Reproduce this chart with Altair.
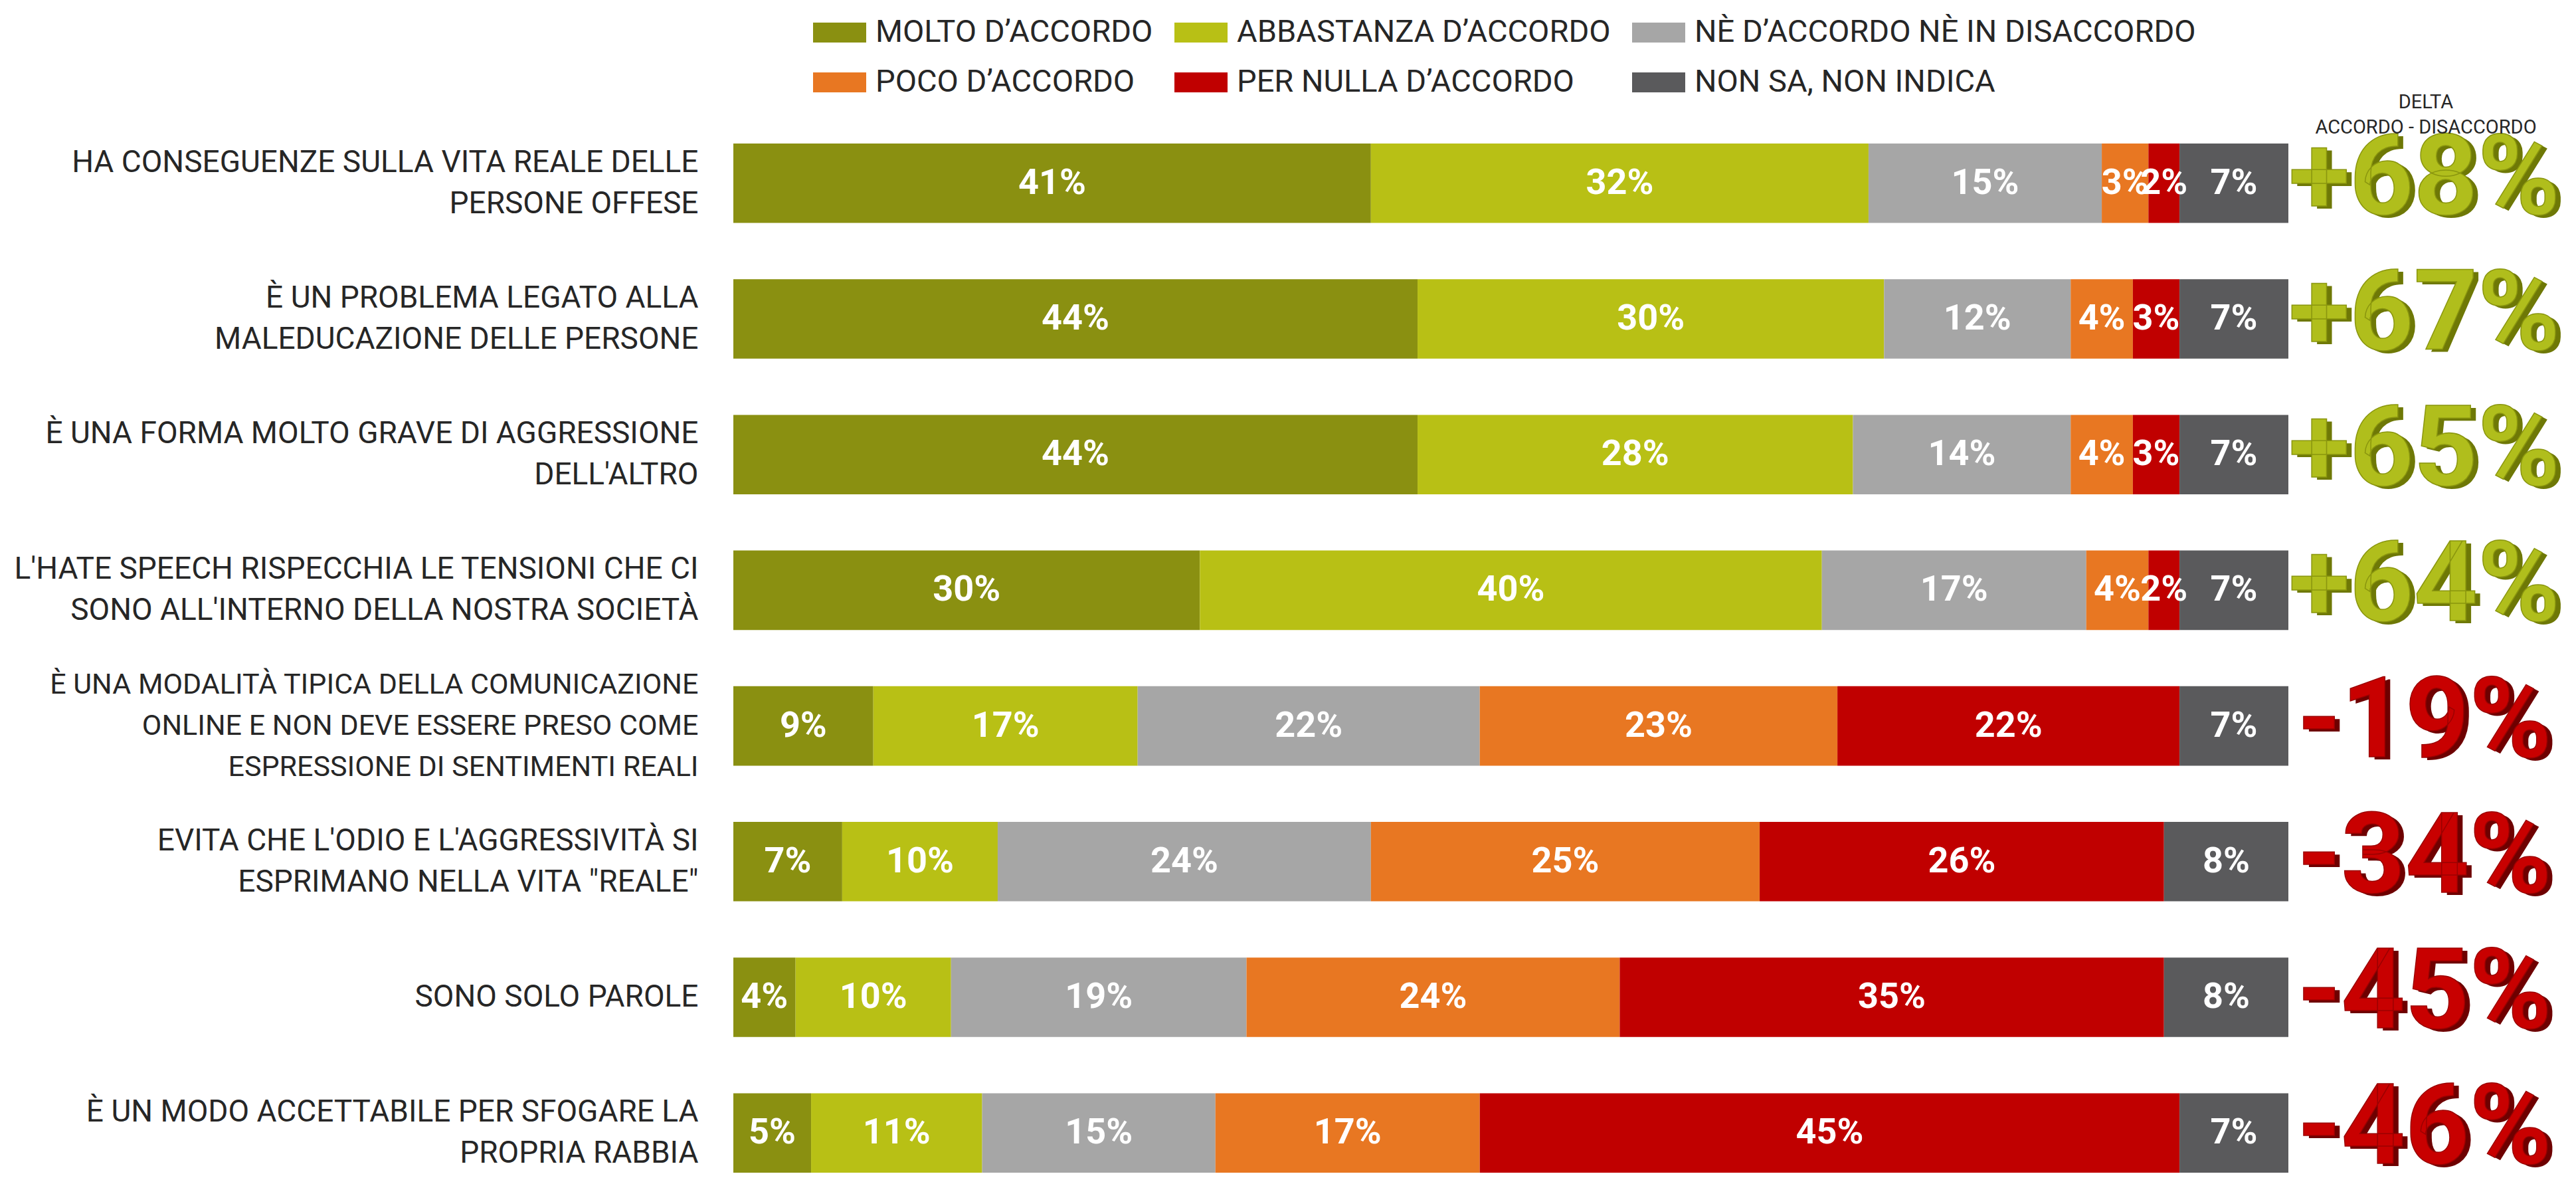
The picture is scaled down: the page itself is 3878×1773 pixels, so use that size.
import altair as alt
import pandas as pd

items = [
    "HA CONSEGUENZE SULLA VITA REALE DELLE|PERSONE OFFESE",
    "È UN PROBLEMA LEGATO ALLA|MALEDUCAZIONE DELLE PERSONE",
    "È UNA FORMA MOLTO GRAVE DI AGGRESSIONE|DELL'ALTRO",
    "L'HATE SPEECH RISPECCHIA LE TENSIONI CHE CI|SONO ALL'INTERNO DELLA NOSTRA SOCIETÀ",
    "È UNA MODALITÀ TIPICA DELLA COMUNICAZIONE|ONLINE E NON DEVE ESSERE PRESO COME|ESPRESSIONE DI SENTIMENTI REALI",
    "EVITA CHE L'ODIO E L'AGGRESSIVITÀ SI|ESPRIMANO NELLA VITA \"REALE\"",
    "SONO SOLO PAROLE",
    "È UN MODO ACCETTABILE PER SFOGARE LA|PROPRIA RABBIA",
]

categories = [
    "MOLTO D’ACCORDO",
    "ABBASTANZA D’ACCORDO",
    "NÈ D’ACCORDO NÈ IN DISACCORDO",
    "POCO D’ACCORDO",
    "PER NULLA D’ACCORDO",
    "NON SA, NON INDICA",
]
colors = ["#8A9011", "#B8C015", "#A6A6A6", "#E87722", "#C00000", "#5A5A5C"]

molto = [41, 44, 44, 30, 9, 7, 4, 5]
abbastanza = [32, 30, 28, 40, 17, 10, 10, 11]
ne = [15, 12, 14, 17, 22, 24, 19, 15]
poco = [3, 4, 4, 4, 23, 25, 24, 17]
nulla = [2, 3, 3, 2, 22, 26, 35, 45]
nonsa = [7, 7, 7, 7, 7, 8, 8, 7]

delta = [68, 67, 65, 64, -19, -34, -45, -46]
delta_header = "DELTA\nACCORDO - DISACCORDO"

series = [molto, abbastanza, ne, poco, nulla, nonsa]
rows = []
for i, item in enumerate(items):
    for j, cat in enumerate(categories):
        rows.append({"item": item, "cat": cat, "order": j, "value": series[j][i]})
df = pd.DataFrame(rows)

ddf = pd.DataFrame({
    "item": items,
    "delta": delta,
    "lab": [("+" if d > 0 else "-") + str(abs(d)) + "%" for d in delta],
})
hdf = pd.DataFrame({"h": [delta_header]})

FONT = "Roboto"
LH = 62

y_enc = alt.Y(
    "item:N",
    sort=items,
    title=None,
    scale=alt.Scale(paddingInner=0.4146, paddingOuter=0),
    axis=alt.Axis(
        domain=False,
        ticks=False,
        grid=False,
        labelExpr="split(datum.label, '|')",
        labelAlign="right",
        labelBaseline="middle",
        labelPadding=53,
        labelFont=FONT,
        labelFontSize={"condition": {"test": "length(split(datum.value, '|')) == 3", "value": 43}, "value": 46},
        labelOffset={
            "condition": [
                {"test": "length(split(datum.value, '|')) == 3", "value": -LH},
                {"test": "length(split(datum.value, '|')) == 2", "value": -LH / 2},
            ],
            "value": 0,
        },
        labelLineHeight=LH,
        labelColor="#262626",
        labelLimit=1100,
    ),
)

base = alt.Chart(df).transform_stack(
    stack="value",
    groupby=["item"],
    as_=["x0", "x1"],
    sort=[alt.SortField("order", order="ascending")],
)

bars = base.mark_bar().encode(
    y=y_enc,
    x=alt.X("x0:Q", scale=alt.Scale(domain=[0, 100], nice=False, zero=True), axis=None),
    x2="x1:Q",
    color=alt.Color(
        "cat:N",
        scale=alt.Scale(domain=categories, range=colors),
        legend=alt.Legend(
            title=None,
            orient="none",
            legendX=120,
            legendY=-207,
            direction="horizontal",
            columns=3,
            symbolType="M-1,-0.375H1V0.375H-1Z",
            symbolSize=6400,
            symbolStrokeWidth=0,
            symbolOpacity=1,
            labelFont=FONT,
            labelFontSize=47,
            labelColor="#262626",
            labelOffset=14,
            labelLimit=800,
            columnPadding=32,
            rowPadding=12,
            padding=0,
        ),
    ),
)

values = base.transform_calculate(
    mid="(datum.x0 + datum.x1) / 2",
    lab="datum.value + '%'",
).mark_text(
    color="white", font=FONT, fontWeight="bold", fontSize=54, baseline="middle", align="center"
).encode(
    y=y_enc,
    x=alt.X("mid:Q"),
    text="lab:N",
)

delta_shadow = alt.Chart(ddf).mark_text(
    font=FONT, fontWeight="bold", fontSize=168, baseline="middle", align="center", dx=4, dy=0
).encode(
    y=y_enc,
    x=alt.value(2550),
    text="lab:N",
    color=alt.condition("datum.delta > 0", alt.value("#6E7806"), alt.value("#6E0000")),
)

delta_main = alt.Chart(ddf).mark_text(
    font=FONT, fontWeight="bold", fontSize=168, baseline="middle", align="center", dy=-4,
    strokeWidth=1.5,
).encode(
    y=y_enc,
    x=alt.value(2546),
    text="lab:N",
    color=alt.condition("datum.delta > 0", alt.value("#B0BE1C"), alt.value("#C80000")),
    stroke=alt.condition("datum.delta > 0", alt.value("#8A960E"), alt.value("#9A0000")),
)

header = alt.Chart(hdf).mark_text(
    font=FONT, fontSize=29, color="#262626", align="center", baseline="middle",
    lineBreak="\n", lineHeight=38,
).encode(
    x=alt.value(2548),
    y=alt.value(-62),
    text="h:N",
)

chart = alt.layer(bars, values, delta_shadow, delta_main, header).properties(
    width=2341,
    height=1549,
    padding={"left": 1096, "top": 208, "right": 417, "bottom": 0},
    autosize=alt.AutoSizeParams(type="none"),
    background="white",
).configure_view(stroke=None)

chart.save("out.html", embed_options={"renderer": "svg", "actions": False})
